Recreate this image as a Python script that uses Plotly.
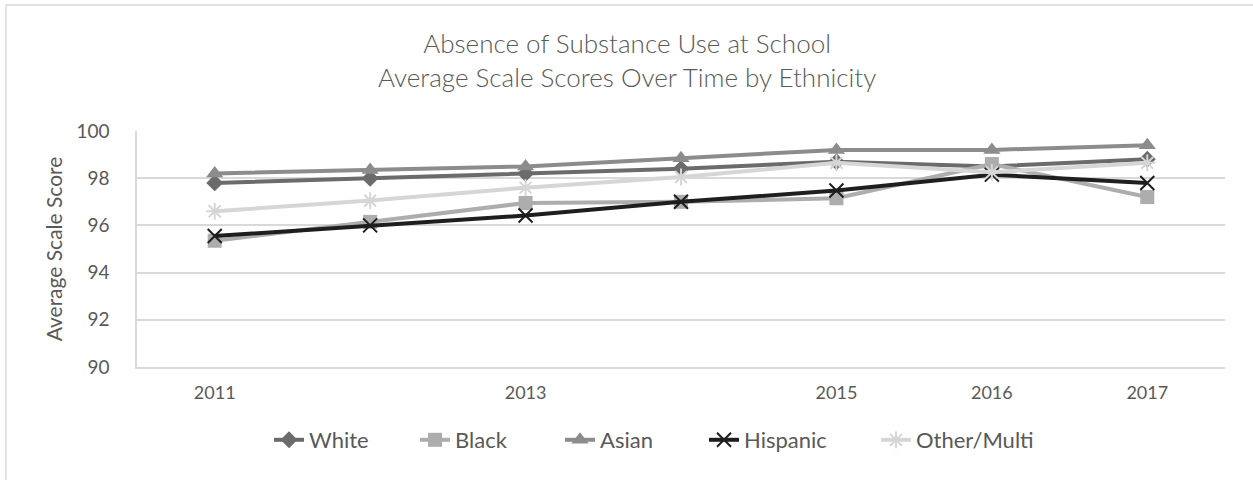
import plotly.graph_objects as go

# Survey years and the axis labels shown under them
years = [2011, 2012, 2013, 2014, 2015, 2016, 2017]
tick_labels = ["2011", "", "2013", "", "2015", "2016", "2017"]

# Average scale scores by ethnicity
white = [97.8, 98.0, 98.2, 98.4, 98.7, 98.5, 98.8]
black = [95.35, 96.15, 96.95, 97.0, 97.15, 98.6, 97.2]
asian = [98.2, 98.35, 98.5, 98.85, 99.2, 99.2, 99.4]
hispanic = [95.55, 96.0, 96.42, 97.0, 97.48, 98.15, 97.8]
other_multi = [96.6, 97.05, 97.6, 98.05, 98.65, 98.25, 98.65]

chart_title = "Absence of Substance Use at School<br>Average Scale Scores Over Time by Ethnicity"

FONT = "Lato"
TEXT = "#595959"
GRID = "#d9d9d9"

W, H = 1253, 480
L, R, T, B = 137, 28, 131, 113
PW, PH = W - L - R, H - T - B

# name, values, colour, marker symbol, marker size, marker outline width, legend text start (px)
series = [
    ("White", white, "#6b6b6b", "diamond", 13, None, 310),
    ("Black", black, "#adadad", "square", 14, None, 456),
    ("Asian", asian, "#8c8c8c", "triangle-up", 15, None, 601),
    ("Hispanic", hispanic, "#1e1e1e", "x-thin", 14, 2, 745),
    ("Other/Multi", other_multi, "#d6d6d6", "asterisk-open", 14, 2, 917),
]

fig = go.Figure()
legends = {}
for i, (name, vals, color, symbol, size, lw, text_x) in enumerate(series):
    marker = dict(symbol=symbol, size=size, color=color)
    if lw:
        marker["line"] = dict(color=color, width=lw)
    else:
        marker["line"] = dict(width=0)
    key = "legend" if i == 0 else f"legend{i + 1}"
    fig.add_trace(go.Scatter(
        x=years, y=vals, name=name, mode="lines+markers",
        line=dict(color=color, width=4),
        marker=marker, legend=key,
    ))
    # one legend box per series so the entries sit on a single centred row
    legends[key] = dict(
        orientation="h", xref="paper", x=(text_x - 41 - L) / PW, xanchor="left",
        y=(H - B - 440) / PH, yanchor="middle",
        font=dict(family=FONT, size=22, color=TEXT),
        itemwidth=30, bgcolor="rgba(0,0,0,0)",
    )

fig.update_layout(
    width=W, height=H,
    margin=dict(l=L, r=R, t=T, b=B, autoexpand=False),
    paper_bgcolor="white", plot_bgcolor="white",
    font=dict(family=FONT, color=TEXT),
    annotations=[dict(
        text=chart_title, xref="paper", yref="paper",
        x=(W / 2 - L) / PW, y=(H - B - 59.5) / PH,
        xanchor="center", yanchor="middle", align="center", showarrow=False,
        font=dict(family=FONT, size=26, color=TEXT, weight=300),
    )],
    showlegend=True,
    shapes=[dict(
        type="rect", xref="paper", yref="paper",
        x0=(6 - L) / PW, x1=(W + 20 - L) / PW,
        y0=(H - B - H - 20) / PH, y1=(H - B - 5) / PH,
        line=dict(color=GRID, width=1.5), fillcolor="rgba(0,0,0,0)", layer="below",
    )],
    **legends,
)

fig.update_xaxes(
    range=[2010.5, 2017.5], tickvals=years, ticktext=tick_labels,
    showgrid=False, zeroline=False, showline=True, linecolor=GRID, linewidth=1.5,
    ticks="", ticklabelstandoff=9,
    tickfont=dict(family=FONT, size=18, color=TEXT),
)
fig.update_yaxes(
    range=[90, 100], dtick=2, showgrid=True, gridcolor=GRID, gridwidth=1.5,
    zeroline=False, showline=True, linecolor=GRID, linewidth=1.5,
    ticks="", ticklabelstandoff=22,
    tickfont=dict(family=FONT, size=19, color=TEXT),
    title=dict(text="Average Scale Score", standoff=8,
               font=dict(family=FONT, size=21, color=TEXT)),
)

fig.write_html("out.html")
